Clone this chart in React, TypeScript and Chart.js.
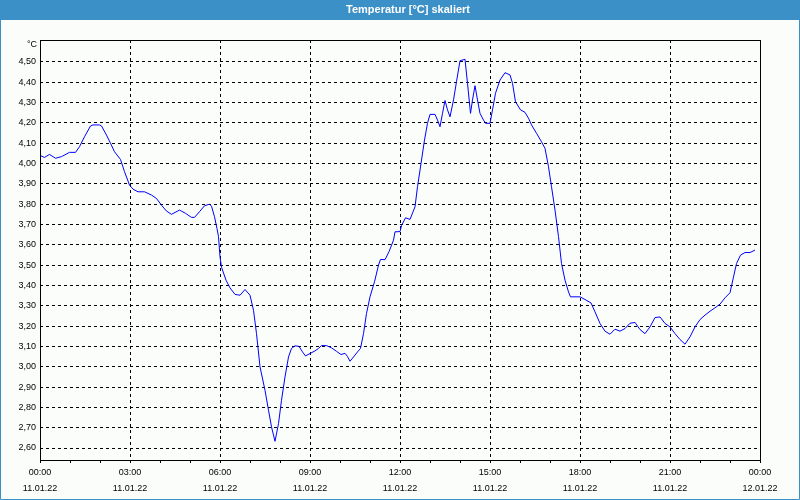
import React, { useEffect, useRef } from 'react';
import { Chart, registerables } from 'chart.js';

Chart.register(...registerables);

const TITLE = 'Temperatur [°C] skaliert';
const UNIT = '°C';

// minutes since 11.01.22 00:00
const timesMin = [
  0, 9, 19, 31, 43, 59, 71, 79, 89, 101,
  106, 119, 123, 133, 141, 149, 161, 169, 179, 186,
  196, 209, 223, 233, 243, 253, 263, 279, 291, 303,
  309, 319, 329, 339, 343, 349, 354, 357, 360, 363,
  372, 380, 390, 400, 410, 420, 427, 433, 440, 450,
  457, 463, 470, 477, 483, 490, 497, 503, 510, 518,
  525, 531, 540, 550, 557, 563, 573, 583, 593, 602,
  610, 615, 620, 627, 635, 641, 647, 653, 660, 669,
  677, 681, 690, 698, 707, 710, 720, 723, 731, 740,
  750, 755, 762, 769, 775, 780, 790, 795, 800, 805,
  810, 815, 820, 827, 833, 840, 850, 855, 861, 865,
  870, 875, 880, 887, 891, 900, 905, 911, 920, 930,
  940, 945, 951, 961, 970, 977, 983, 993, 1003, 1010,
  1017, 1023, 1030, 1037, 1043, 1050, 1057, 1061, 1080, 1090,
  1102, 1110, 1120, 1130, 1140, 1150, 1160, 1170, 1180, 1190,
  1200, 1210, 1220, 1230, 1240, 1250, 1260, 1270, 1280, 1290,
  1300, 1310, 1320, 1330, 1340, 1350, 1360, 1370, 1380, 1387,
  1393, 1401, 1410, 1420, 1430,
];

const temps = [
  4.04, 4.03, 4.045, 4.026, 4.034, 4.055, 4.055, 4.083, 4.132, 4.185,
  4.19, 4.19, 4.185, 4.14, 4.10, 4.058, 4.02, 3.96, 3.894, 3.874,
  3.861, 3.861, 3.845, 3.828, 3.795, 3.766, 3.75, 3.771, 3.755, 3.735,
  3.735, 3.763, 3.792, 3.80, 3.79, 3.738, 3.68, 3.64, 3.541, 3.49,
  3.426, 3.388, 3.356, 3.352, 3.38, 3.352, 3.278, 3.163, 3.0, 2.884,
  2.786, 2.704, 2.633, 2.72, 2.835, 2.95, 3.048, 3.09, 3.103, 3.10,
  3.073, 3.053, 3.065, 3.078, 3.09, 3.104, 3.104, 3.093, 3.076, 3.06,
  3.066, 3.05, 3.027, 3.048, 3.073, 3.09, 3.163, 3.262, 3.344, 3.418,
  3.5, 3.528, 3.527, 3.566, 3.623, 3.664, 3.665, 3.694, 3.733, 3.725,
  3.787, 3.886, 4.0, 4.116, 4.198, 4.242, 4.242, 4.214, 4.181, 4.247,
  4.31, 4.264, 4.23, 4.313, 4.403, 4.506, 4.513, 4.395, 4.247, 4.313,
  4.383, 4.313, 4.247, 4.214, 4.198, 4.198, 4.264, 4.346, 4.411, 4.447,
  4.436, 4.395, 4.304, 4.264, 4.252, 4.223, 4.19, 4.149, 4.107, 4.075,
  3.984, 3.886, 3.771, 3.64, 3.508, 3.426, 3.368, 3.344, 3.344, 3.331,
  3.314, 3.27, 3.213, 3.175, 3.16, 3.185, 3.175, 3.188, 3.214, 3.218,
  3.183, 3.163, 3.196, 3.242, 3.245, 3.213, 3.196, 3.163, 3.134, 3.111,
  3.147, 3.196, 3.232, 3.254, 3.273, 3.29, 3.308, 3.339, 3.364, 3.442,
  3.508, 3.549, 3.562, 3.562, 3.574,
];

const yTicks = [2.6, 2.7, 2.8, 2.9, 3.0, 3.1, 3.2, 3.3, 3.4, 3.5, 3.6, 3.7, 3.8, 3.9, 4.0, 4.1, 4.2, 4.3, 4.4, 4.5];
const xTickTimes = ['00:00', '03:00', '06:00', '09:00', '12:00', '15:00', '18:00', '21:00', '00:00'];
const xTickDates = ['11.01.22', '11.01.22', '11.01.22', '11.01.22', '11.01.22', '11.01.22', '11.01.22', '11.01.22', '12.01.22'];

const Y_MIN = 2.541;
const Y_MAX = 4.608;
const BLUE = '#3b90c8';
const FONT = 'Liberation Sans';

const decorPlugin = {
  id: 'decor',
  beforeDraw(chart: any) {
    const { ctx, width, height } = chart;
    ctx.save();
    ctx.fillStyle = '#fafdfa';
    ctx.fillRect(0, 0, width, height);
    ctx.restore();
  },
  afterDraw(chart: any) {
    const { ctx, width, height, chartArea } = chart;
    ctx.save();
    // title bar
    ctx.fillStyle = BLUE;
    ctx.fillRect(0, 0, width, 20);
    ctx.fillStyle = '#ffffff';
    ctx.font = `bold 11px "${FONT}"`;
    ctx.textAlign = 'center';
    ctx.textBaseline = 'middle';
    ctx.fillText(TITLE, 408, 10);
    // window frame
    ctx.strokeStyle = BLUE;
    ctx.lineWidth = 1;
    ctx.setLineDash([]);
    ctx.beginPath();
    ctx.moveTo(0.5, 20);
    ctx.lineTo(0.5, height - 0.5);
    ctx.lineTo(width - 0.5, height - 0.5);
    ctx.lineTo(width - 0.5, 20);
    ctx.stroke();
    // plot frame
    ctx.strokeStyle = '#000000';
    ctx.strokeRect(
      Math.round(chartArea.left) + 0.5,
      Math.round(chartArea.top) + 0.5,
      Math.round(chartArea.right - chartArea.left),
      Math.round(chartArea.bottom - chartArea.top)
    );
    // unit label
    ctx.fillStyle = '#000000';
    ctx.font = `9px "${FONT}"`;
    ctx.textAlign = 'right';
    ctx.textBaseline = 'middle';
    ctx.fillText(UNIT, chartArea.left - 3, chartArea.top + 5);
    ctx.restore();
  },
};

export default function App() {
  const ref = useRef<HTMLCanvasElement>(null);
  useEffect(() => {
    document.body.style.margin = '0';
    const canvas = ref.current!;
    const chart = new Chart(canvas, {
      type: 'line',
      data: {
        datasets: [
          {
            data: timesMin.map((t, i) => ({ x: t, y: temps[i] })),
            borderColor: '#0000ff',
            borderWidth: 1,
            pointRadius: 0,
            tension: 0,
            fill: false,
          },
        ],
      },
      options: {
        animation: false,
        responsive: false,
        devicePixelRatio: 1,
        layout: { padding: { top: 40, right: 40, left: 0, bottom: 0 } },
        plugins: { legend: { display: false }, tooltip: { enabled: false }, title: { display: false } },
        scales: {
          x: {
            type: 'linear',
            min: 0,
            max: 1440,
            afterBuildTicks: (scale: any) => {
              const t = [];
              for (let m = 0; m <= 1440; m += 60) t.push({ value: m });
              scale.ticks = t;
            },
            afterFit: (scale: any) => {
              scale.height = 40;
              scale.paddingLeft = 0;
              scale.paddingRight = 0;
            },
            ticks: {
              autoSkip: false,
              maxRotation: 0,
              minRotation: 0,
              padding: 2,
              color: '#000000',
              font: { family: FONT, size: 9, lineHeight: '16px' },
              callback: (value: any) => {
                const v = Number(value);
                if (v % 180 !== 0) return '';
                const i = v / 180;
                return [xTickTimes[i], xTickDates[i]];
              },
            },
            grid: {
              color: (ctx: any) => (ctx.tick && ctx.tick.value % 180 === 0 ? '#000000' : 'rgba(0,0,0,0)'),
              lineWidth: 1,
              drawTicks: true,
              tickLength: 3,
              tickColor: '#000000',
              tickBorderDash: [],
            },
            border: { display: false, dash: [3, 3] },
          },
          y: {
            type: 'linear',
            min: Y_MIN,
            max: Y_MAX,
            afterBuildTicks: (scale: any) => {
              scale.ticks = yTicks.map((v) => ({ value: v }));
            },
            afterFit: (scale: any) => {
              scale.width = 40;
            },
            ticks: {
              padding: 4,
              color: '#000000',
              font: { family: FONT, size: 9 },
              callback: (value: any) => Number(value).toFixed(2).replace('.', ','),
            },
            grid: {
              color: '#000000',
              lineWidth: 1,
              drawTicks: false,
            },
            border: { display: false, dash: [3, 3] },
          },
        },
      },
      plugins: [decorPlugin],
    } as any);
    return () => chart.destroy();
  }, []);
  return <canvas ref={ref} width={800} height={500} style={{ display: 'block', width: 800, height: 500 }} />;
}
